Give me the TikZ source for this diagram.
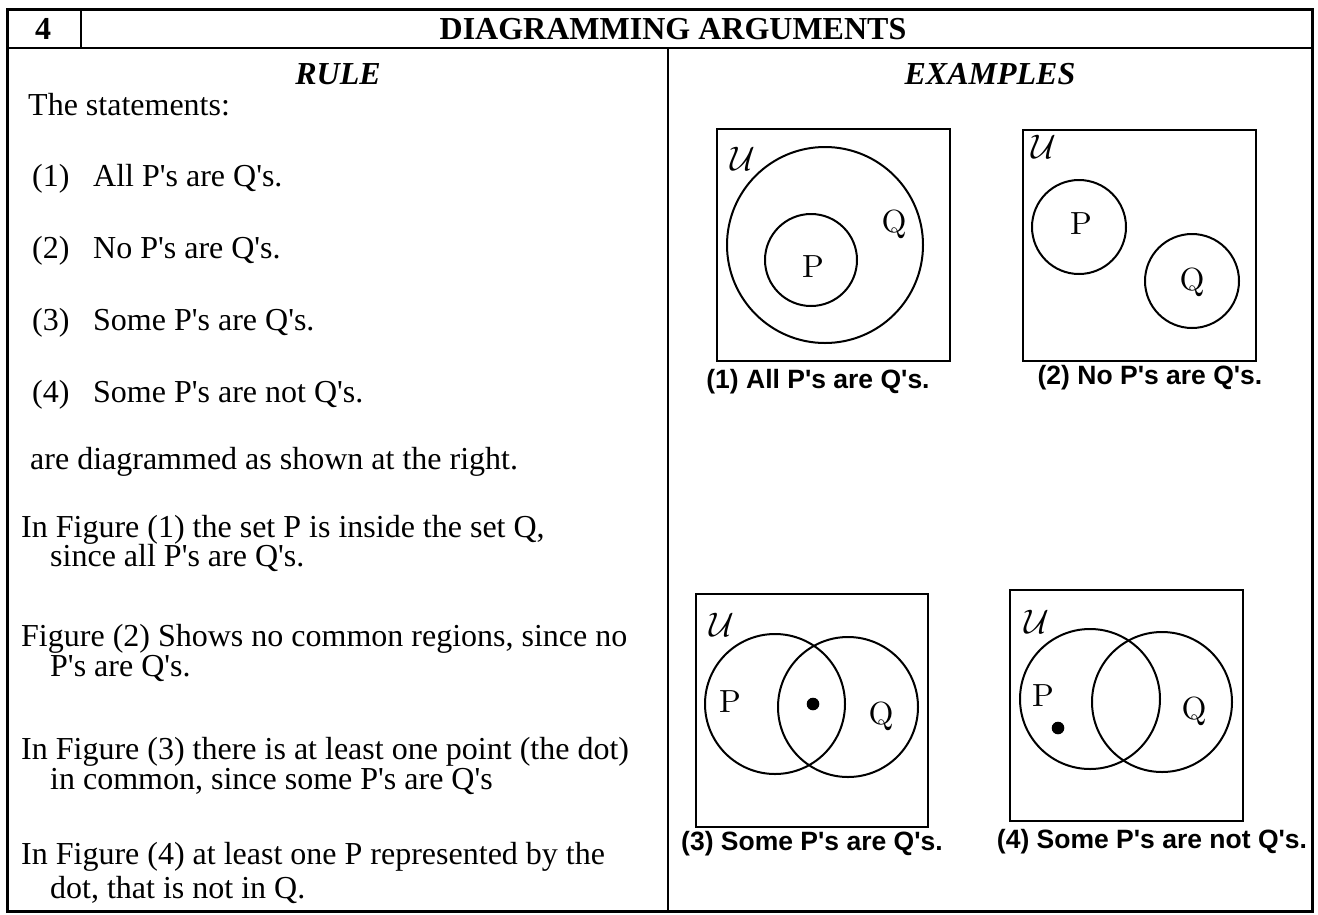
\documentclass[tikz,border=0pt]{standalone}
\usepackage{graphicx}
\usepackage{fontspec}
\setmainfont{Liberation Serif}[Ligatures=TeXOff]
\newfontfamily\capfont{Liberation Sans}
\newcommand\lab[1]{\scalebox{3.2}{\fontfamily{lmr}\fontsize{10}{12}\selectfont #1}}
\newcommand\univ{\scalebox{1.37}{\fontsize{24.88}{30}\selectfont$\mathcal{U}$}}
\begin{document}
\begin{tikzpicture}[x=1pt,y=-1pt,
  frame/.style={line width=3pt},
  rulel/.style={line width=2pt},
  hd/.style={anchor=base, inner sep=0pt, font=\fontsize{32}{38}\selectfont\bfseries},
  sub/.style={anchor=base, inner sep=0pt, font=\fontsize{32}{38}\selectfont\bfseries\itshape},
  txt/.style={anchor=base west, inner sep=0pt, font=\fontsize{32}{38}\selectfont},
  figcap/.style={anchor=base, inner sep=0pt, font=\fontsize{26.5}{30}\selectfont\capfont\bfseries},
  lbl/.style={inner sep=0pt},
  ulbl/.style={inner sep=0pt},
  ubox/.style={line width=2pt},
  set/.style={line width=2pt},
  dotm/.style={fill=black}
]
\useasboundingbox (0,0) rectangle (1318,914);
% table frame
\coordinate (tl) at (7.5,9.5);
\coordinate (br) at (1312.5,911);
\draw[frame] (tl) rectangle (br);
\coordinate (hl) at (7.5,48);
\coordinate (hr) at (1312.5,48);
\draw[line width=2.5pt] (hl) -- (hr);
\coordinate (nt) at (81,9.5);
\coordinate (nb) at (81,48);
\draw[rulel] (nt) -- (nb);
\coordinate (ct) at (668,48);
\coordinate (cb) at (668,911);
\draw[rulel] (ct) -- (cb);
% header
\node[hd] (num) at (43,39) {4};
\node[hd] (title) at (673,39) {DIAGRAMMING ARGUMENTS};
\node[sub] (rule) at (338,84) {RULE};
\node[sub] (examples) at (990,84) {EXAMPLES};
% left column
\node[txt] (t0) at (28,115) {The statements:};
\node[txt] (n1) at (32,186) {(1)};
\node[txt] (s1) at (93,186) {All P's are Q's.};
\node[txt] (n2) at (32,258) {(2)};
\node[txt] (s2) at (93,258) {No P's are Q's.};
\node[txt] (n3) at (32,330) {(3)};
\node[txt] (s3) at (93,330) {Some P's are Q's.};
\node[txt] (n4) at (32,402) {(4)};
\node[txt] (s4) at (93,402) {Some P's are not Q's.};
\node[txt] (t5) at (30,469) {are diagrammed as shown at the right.};
\node[txt] (f1a) at (21,537) {In Figure (1) the set P is inside the set Q,};
\node[txt] (f1b) at (50,566) {since all P's are Q's.};
\node[txt] (f2a) at (21,646) {Figure (2) Shows no common regions, since no};
\node[txt] (f2b) at (50,676) {P's are Q's.};
\node[txt] (f3a) at (21,759) {In Figure (3) there is at least one point (the dot)};
\node[txt] (f3b) at (50,789) {in common, since some P's are Q's};
\node[txt] (f4a) at (21,864) {In Figure (4) at least one P represented by the};
\node[txt] (f4b) at (50,898) {dot, that is not in Q.};
% figure 1
\draw[ubox] (717,129) rectangle (950,361);
\draw[set] (825,245) circle (98);
\draw[set] (811,260) circle (46);
\node[ulbl] (u1) at (743,159) {\univ};
\node[lbl] (p1) at (813,267) {\lab{P}};
\node[lbl] (q1) at (894,224) {\lab{Q}};
\node[figcap] (c1) at (818,388) {(1) All P's are Q's.};
% figure 2
\draw[ubox] (1023,130) rectangle (1256,361);
\draw[set] (1079,227) circle (47);
\draw[set] (1192,281) circle (47);
\node[ulbl] (u2) at (1044,147) {\univ};
\node[lbl] (p2) at (1081,224) {\lab{P}};
\node[lbl] (q2) at (1192,282) {\lab{Q}};
\node[figcap] (c2) at (1150,384) {(2) No P's are Q's.};
% figure 3
\draw[ubox] (696,594) rectangle (928,827);
\draw[set] (775,704) circle (70);
\draw[set] (848,707) circle (70);
\fill[dotm] (813,704) circle (6.3);
\node[ulbl] (u3) at (722,625) {\univ};
\node[lbl] (p3) at (730,702) {\lab{P}};
\node[lbl] (q3) at (881,716) {\lab{Q}};
\node[figcap] (c3) at (812,850) {(3) Some P's are Q's.};
% figure 4
\draw[ubox] (1010,590) rectangle (1243,821);
\draw[set] (1090,699) circle (70);
\draw[set] (1162,702) circle (70);
\fill[dotm] (1058,728) circle (6.3);
\node[ulbl] (u4) at (1037,622) {\univ};
\node[lbl] (p4) at (1043,696) {\lab{P}};
\node[lbl] (q4) at (1194,711) {\lab{Q}};
\node[figcap] (c4) at (1152,848) {(4) Some P's are not Q's.};
\end{tikzpicture}
\end{document}
